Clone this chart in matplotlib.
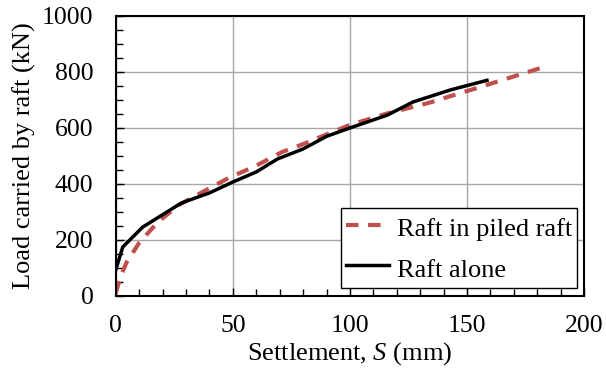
"""
Load carried by raft vs settlement.
"""

import matplotlib
matplotlib.use("Agg")
from matplotlib import pyplot as plt
from matplotlib.ticker import MultipleLocator

# Raft in piled raft (dashed red)
piled_s = [0, 2, 4.5, 10, 18, 27, 37, 49, 59, 71, 79, 100, 116, 133, 154, 181]
piled_load = [10, 68, 118, 190, 264, 325, 371, 425, 461, 514, 539, 611, 652, 688, 742, 813]

# Raft alone (solid black)
alone_s = [0, 3, 11.5, 28, 40, 50, 60, 69, 80, 90, 100, 116, 127, 143, 158.5]
alone_load = [93, 175, 246, 332, 368, 407, 443, 489, 525, 570, 600, 646, 693, 736, 770]

LABELS = ["Raft in piled raft", "Raft alone"]
RED = "#C0504D"
FONT = 19
TICK_FONT = 18.5

plt.rcParams['font.family'] = ['Liberation Serif', 'DejaVu Serif']
plt.rcParams['mathtext.fontset'] = 'custom'
plt.rcParams['mathtext.it'] = 'Liberation Serif:italic'
plt.rcParams['mathtext.rm'] = 'Liberation Serif'

fig = plt.figure(figsize=(6.06, 3.70), dpi=100)
ax = fig.add_axes([0.191, 0.2, 0.773, 0.757])

ax.plot(piled_s, piled_load, color=RED, lw=3, dashes=(3, 2.3), label=LABELS[0])
ax.plot(alone_s, alone_load, color="black", lw=2.5, label=LABELS[1])

ax.set_xlim(0, 200)
ax.set_ylim(0, 1000)
ax.xaxis.set_major_locator(MultipleLocator(50))
ax.xaxis.set_minor_locator(MultipleLocator(10))
ax.yaxis.set_major_locator(MultipleLocator(200))
ax.yaxis.set_minor_locator(MultipleLocator(50))
ax.grid(True, which="major", color="#A6A6A6", lw=1)
ax.set_axisbelow(True)

for s in ax.spines.values():
    s.set_linewidth(1.5)
    s.set_color("black")

ax.tick_params(which="both", direction="in", labelsize=TICK_FONT, width=1)
ax.tick_params(which="major", length=6)
ax.tick_params(which="minor", length=5)
ax.tick_params(axis="x", pad=14)
ax.tick_params(axis="y", pad=16)

ax.set_xlabel(r"Settlement, $S$ (mm)", fontsize=FONT, labelpad=2)
ax.set_ylabel("Load carried by raft (kN)", fontsize=FONT, labelpad=4)

leg = ax.legend(loc="lower right", bbox_to_anchor=(0.985, 0.029),
                fontsize=FONT, frameon=True, fancybox=False,
                edgecolor="black", framealpha=1, handlelength=1.6,
                handleheight=1.35, handletextpad=0.3, borderpad=0.2,
                labelspacing=0.4, borderaxespad=0)
leg.get_frame().set_linewidth(1)

fig.savefig("out.png", dpi=100)
